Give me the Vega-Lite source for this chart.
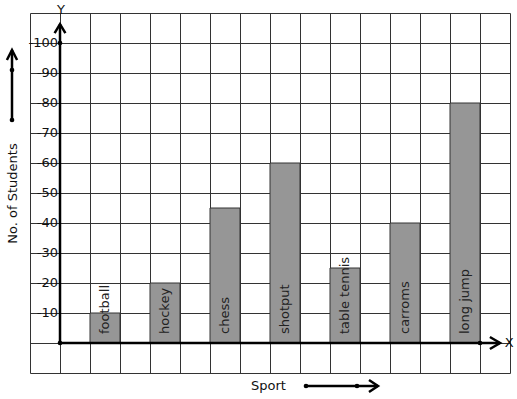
{
  "$schema": "https://vega.github.io/schema/vega-lite/v6.json",
  "width": 480,
  "height": 360,
  "autosize": {"type": "none"},
  "padding": {"left": 30, "top": 13, "right": 7, "bottom": 26},
  "background": "white",
  "config": {
    "view": {"stroke": null},
    "font": "DejaVu Sans",
    "text": {"font": "DejaVu Sans"},
    "axis": {
      "grid": true, "gridColor": "#333333", "gridOpacity": 1, "gridWidth": 1,
      "labels": false, "ticks": false, "domain": false,
      "titleFont": "DejaVu Sans", "titleFontSize": 13, "titleFontWeight": "normal",
      "titleColor": "#111111", "titleAlign": "center", "titleBaseline": "middle"
    },
    "axisX": {"tickCount": 16, "titleX": 238, "titleY": 12},
    "axisY": {"tickCount": 12, "titleAngle": 270, "titleX": -18, "titleY": 180}
  },
  "datasets": {
    "bars": [
      {"sport": "football", "col": 1.5, "students": 10},
      {"sport": "hockey", "col": 3.5, "students": 20},
      {"sport": "chess", "col": 5.5, "students": 45},
      {"sport": "shotput", "col": 7.5, "students": 60},
      {"sport": "table tennis", "col": 9.5, "students": 25},
      {"sport": "carroms", "col": 11.5, "students": 40},
      {"sport": "long jump", "col": 13.5, "students": 80}
    ],
    "ticks": [
      {"v": 10, "lab": "-10"}, {"v": 20, "lab": "-20"}, {"v": 30, "lab": "-30"},
      {"v": 40, "lab": "-40"}, {"v": 50, "lab": "-50"}, {"v": 60, "lab": "-60"},
      {"v": 70, "lab": "-70"}, {"v": 80, "lab": "-80"}, {"v": 90, "lab": "-90"},
      {"v": 100, "lab": "-100"}
    ],
    "paths": [
      {"p": "yaxis", "o": 0, "x": 0, "y": 0},
      {"p": "yaxis", "o": 1, "x": 0, "y": 106.3},
      {"p": "xaxis", "o": 0, "x": 0, "y": 0},
      {"p": "xaxis", "o": 1, "x": 14.67, "y": 0},
      {"p": "ychev", "o": 0, "x": -0.18, "y": 103.3},
      {"p": "ychev", "o": 1, "x": 0, "y": 106.3},
      {"p": "ychev", "o": 2, "x": 0.18, "y": 103.3},
      {"p": "xchev", "o": 0, "x": 14.33, "y": 2},
      {"p": "xchev", "o": 1, "x": 14.67, "y": 0},
      {"p": "xchev", "o": 2, "x": 14.33, "y": -2},
      {"p": "larrow", "o": 0, "x": -1.6, "y": 74.33},
      {"p": "larrow", "o": 1, "x": -1.6, "y": 97.67},
      {"p": "lchev", "o": 0, "x": -1.77, "y": 94.33},
      {"p": "lchev", "o": 1, "x": -1.6, "y": 97.67},
      {"p": "lchev", "o": 2, "x": -1.43, "y": 94.33},
      {"p": "barrow", "o": 0, "x": 8.2, "y": -14.33},
      {"p": "barrow", "o": 1, "x": 10.6, "y": -14.33},
      {"p": "bchev", "o": 0, "x": 10.3, "y": -12.33},
      {"p": "bchev", "o": 1, "x": 10.6, "y": -14.33},
      {"p": "bchev", "o": 2, "x": 10.3, "y": -16.33}
    ],
    "dots": [
      {"x": 0, "y": 0}, {"x": 0, "y": 100}, {"x": 14, "y": 0},
      {"x": -1.6, "y": 74.33}, {"x": -1.6, "y": 91},
      {"x": 8.2, "y": -14.33}, {"x": 9.9, "y": -14.33}
    ],
    "letters": [
      {"t": "X", "x": 14.97, "y": 0},
      {"t": "Y", "x": 0.03, "y": 111}
    ]
  },
  "encoding": {
    "x": {"type": "quantitative", "title": "Sport",
      "scale": {"domain": [-1, 15], "nice": false, "zero": false, "padding": 0}},
    "y": {"type": "quantitative", "title": "No. of Students",
      "scale": {"domain": [-10, 110], "nice": false, "zero": false, "padding": 0}}
  },
  "layer": [
    {
      "data": {"name": "bars"},
      "mark": {"type": "bar", "width": 30, "fill": "#969696", "stroke": "#333333", "strokeWidth": 1},
      "encoding": {
        "x": {"field": "col", "type": "quantitative", "title": "Sport"},
        "y": {"field": "students", "type": "quantitative", "title": "No. of Students"},
        "y2": {"datum": 0}
      }
    },
    {
      "data": {"name": "bars"},
      "mark": {"type": "text", "angle": 270, "align": "left", "baseline": "middle", "dx": 9, "fontSize": 13, "color": "#222222"},
      "encoding": {
        "x": {"field": "col", "type": "quantitative", "title": "Sport"},
        "y": {"datum": 0, "type": "quantitative", "title": "No. of Students"},
        "text": {"field": "sport"}
      }
    },
    {
      "data": {"name": "ticks"},
      "mark": {"type": "text", "align": "right", "baseline": "middle", "fontSize": 13, "color": "#111111", "dx": -2},
      "encoding": {
        "x": {"datum": 0, "type": "quantitative", "title": "Sport"},
        "y": {"field": "v", "type": "quantitative", "title": "No. of Students"},
        "text": {"field": "lab"}
      }
    },
    {
      "data": {"name": "paths"},
      "mark": {"type": "line", "color": "black", "strokeWidth": 2.5, "strokeCap": "butt"},
      "encoding": {
        "x": {"field": "x", "type": "quantitative", "title": "Sport"},
        "y": {"field": "y", "type": "quantitative", "title": "No. of Students"},
        "detail": {"field": "p"},
        "order": {"field": "o"}
      }
    },
    {
      "data": {"name": "dots"},
      "mark": {"type": "point", "filled": true, "color": "black", "size": 22, "opacity": 1},
      "encoding": {
        "x": {"field": "x", "type": "quantitative", "title": "Sport"},
        "y": {"field": "y", "type": "quantitative", "title": "No. of Students"}
      }
    },
    {
      "data": {"name": "letters"},
      "mark": {"type": "text", "align": "center", "baseline": "middle", "fontSize": 13, "color": "#111111"},
      "encoding": {
        "x": {"field": "x", "type": "quantitative", "title": "Sport"},
        "y": {"field": "y", "type": "quantitative", "title": "No. of Students"},
        "text": {"field": "t"}
      }
    }
  ]
}
